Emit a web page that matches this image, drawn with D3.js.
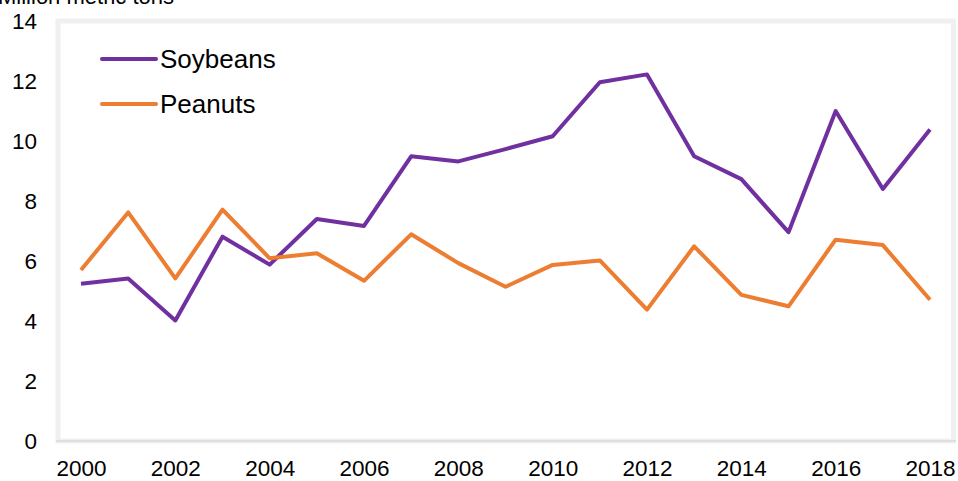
<!DOCTYPE html>
<html>
<head>
<meta charset="utf-8">
<script src="https://cdn.jsdelivr.net/npm/d3@7"></script>
<style>
  body { margin: 0; background: #fff; }
  svg { display: block; font-family: "Liberation Sans", Arial, sans-serif; }
</style>
</head>
<body>
<div id="chart"></div>
<script>
const years = d3.range(2000, 2019)
const soybeans = [5.24, 5.42, 4.02, 6.81, 5.88, 7.4, 7.17, 9.49, 9.32, 9.73, 10.16, 11.96, 12.22, 9.49, 8.73, 6.96, 11.0, 8.4, 10.38]
const peanuts = [5.7, 7.62, 5.42, 7.71, 6.09, 6.26, 5.34, 6.89, 5.93, 5.14, 5.87, 6.02, 4.38, 6.49, 4.87, 4.49, 6.71, 6.53, 4.71]
const yTicks = [0, 2, 4, 6, 8, 10, 12, 14]
const xTicks = [2000, 2002, 2004, 2006, 2008, 2010, 2012, 2014, 2016, 2018]
const seriesNames = ['Soybeans', 'Peanuts']
const colors = ['#7030a0', '#ed7d31']

const w = 958
const h = 481

const svg = d3.select('#chart')
  .append('svg')
  .attr('width', w)
  .attr('height', h)

const xScale = d3.scaleLinear().domain([2000, 2018]).range([81, 930])
const yScale = d3.scaleLinear().domain([0, 14]).range([441, 21])

// light frame around plot area
svg.append('rect')
  .attr('x', 58).attr('y', 21)
  .attr('width', 895.5).attr('height', 420)
  .attr('fill', '#fff')
  .attr('stroke', '#f0f0f0')
  .attr('stroke-width', 5)

svg.append('line')
  .attr('x1', 56).attr('x2', 956)
  .attr('y1', 441).attr('y2', 441)
  .attr('stroke', '#d9d9d9')
  .attr('stroke-width', 1.5)

const yAxis = d3.axisLeft(yScale).tickValues(yTicks).tickSize(0).tickPadding(21)
const xAxis = d3.axisBottom(xScale).tickValues(xTicks).tickFormat(d3.format('d')).tickSize(0).tickPadding(19)

svg.append('g')
  .attr('transform', 'translate(58,0)')
  .call(yAxis)
  .call(g => g.select('.domain').remove())
  .attr('font-size', 22.5)
  .attr('font-family', '"Liberation Sans", Arial, sans-serif')
  .attr('color', '#000')

svg.append('g')
  .attr('transform', 'translate(0,441)')
  .call(xAxis)
  .call(g => g.select('.domain').remove())
  .attr('font-size', 22.5)
  .attr('font-family', '"Liberation Sans", Arial, sans-serif')
  .attr('color', '#000')

svg.append('text')
  .attr('x', -2).attr('y', 4)
  .attr('font-size', 22)
  .text('Million metric tons')

const line = d3.line()
  .x((d, i) => xScale(years[i]))
  .y(d => yScale(d))

;[soybeans, peanuts].forEach((s, k) => {
  svg.append('path')
    .datum(s)
    .attr('d', line)
    .attr('fill', 'none')
    .attr('stroke', colors[k])
    .attr('stroke-width', 4)
    .attr('stroke-linejoin', 'round')
})

// legend
seriesNames.forEach((name, k) => {
  const ly = 59 + k * 45
  svg.append('line')
    .attr('x1', 102).attr('x2', 156)
    .attr('y1', ly).attr('y2', ly)
    .attr('stroke', colors[k])
    .attr('stroke-width', 4)
    .attr('stroke-linecap', 'round')
  svg.append('text')
    .attr('x', 160).attr('y', ly)
    .attr('dy', '0.35em')
    .attr('font-size', 26)
    .text(name)
})
</script>
</body>
</html>
